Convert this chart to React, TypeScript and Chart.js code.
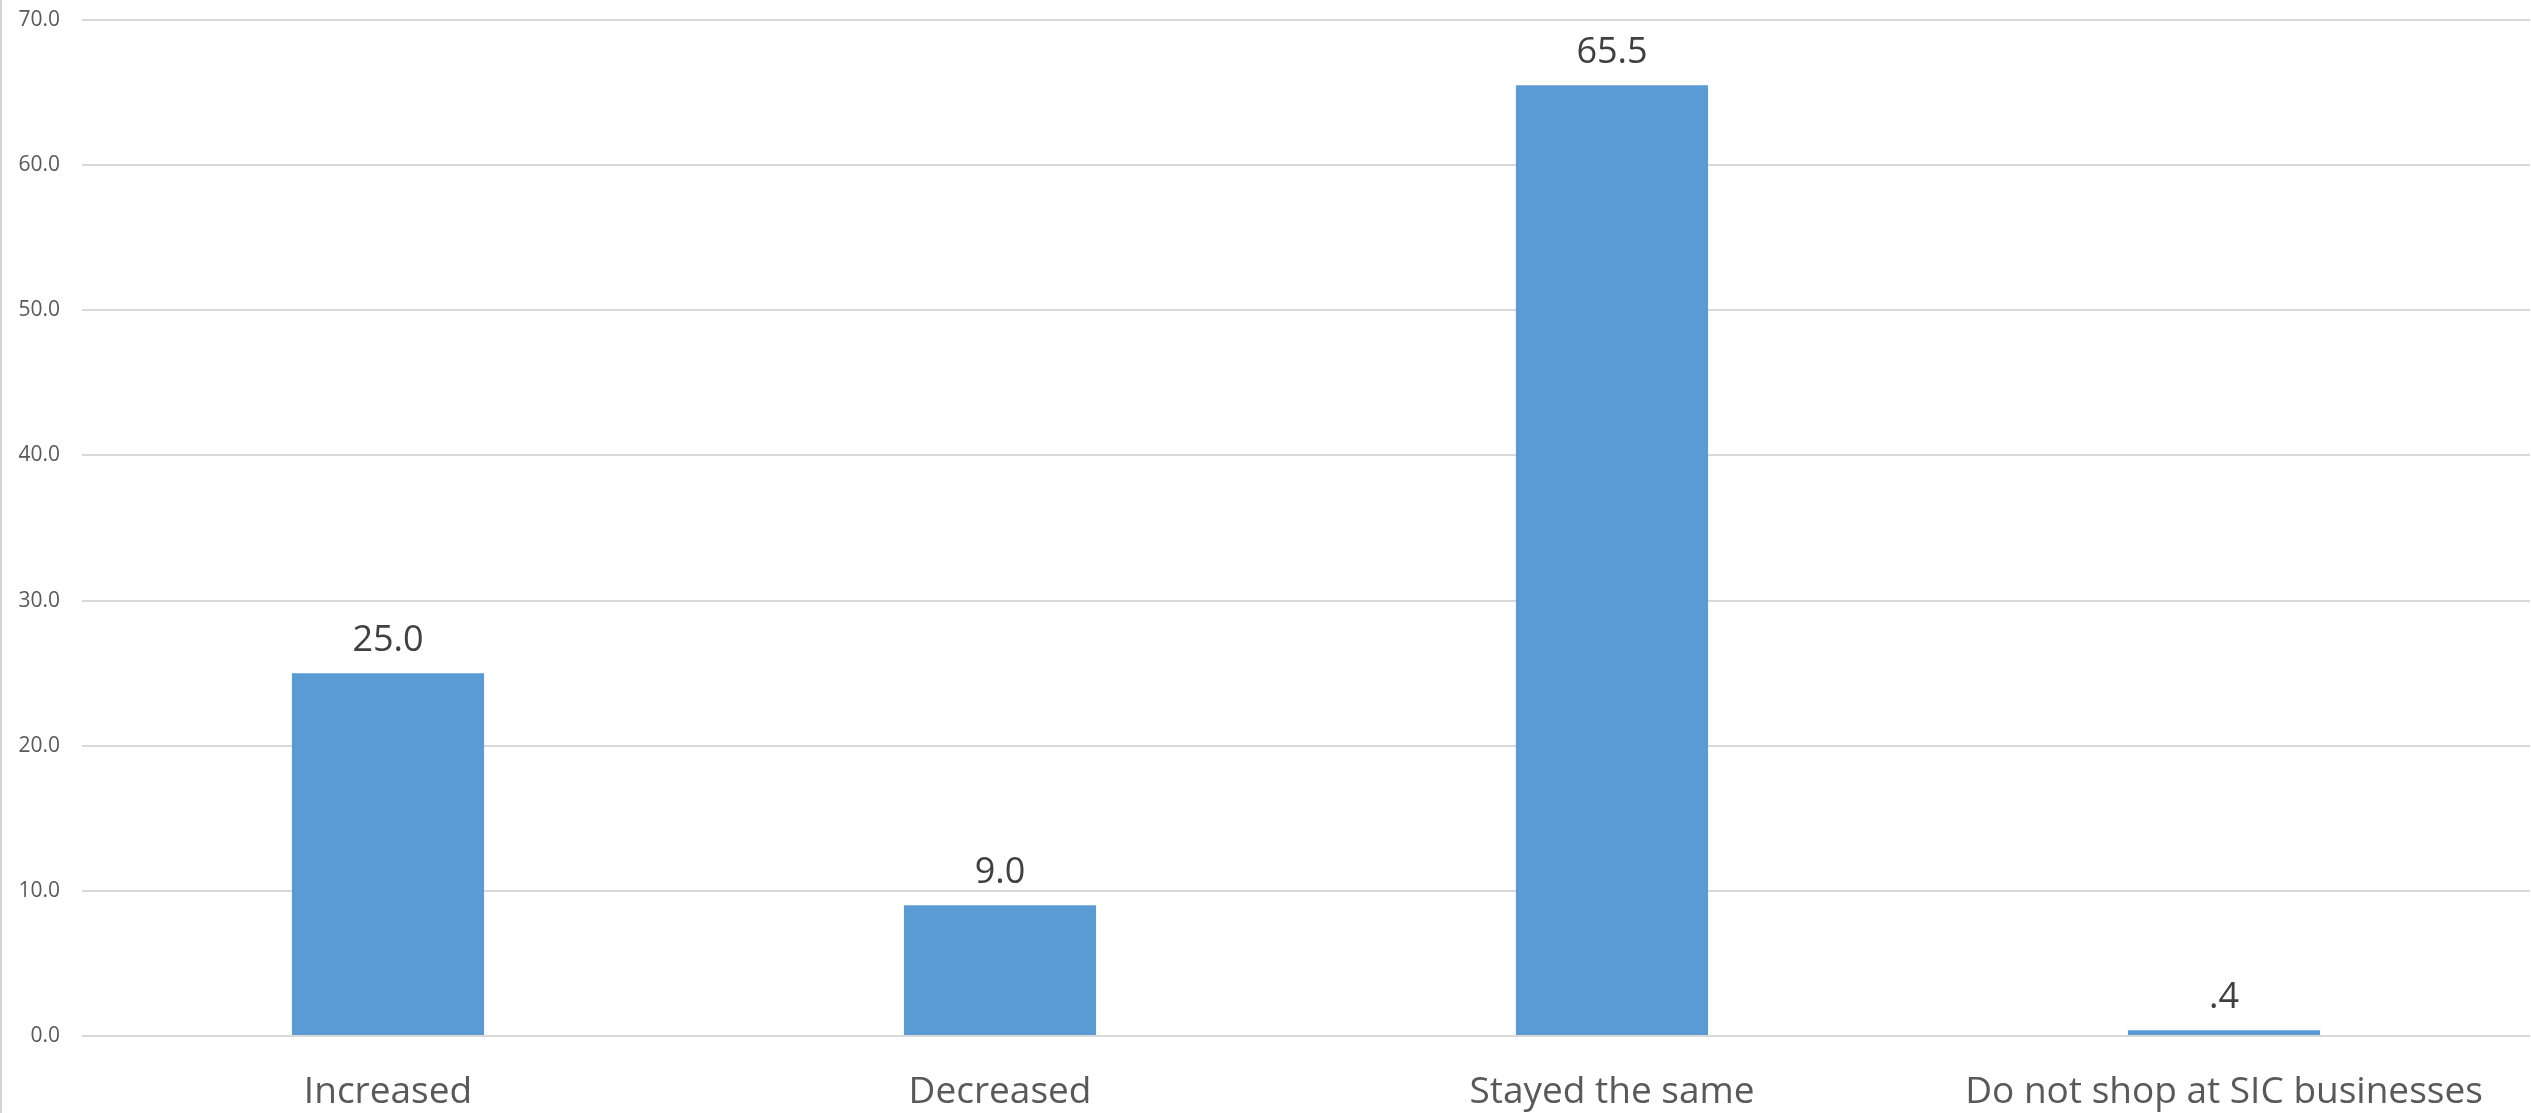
import React, { useEffect, useRef } from "react";
import { Chart, registerables } from "chart.js";

Chart.register(...registerables);

const categories = ["Increased", "Decreased", "Stayed the same", "Do not shop at SIC businesses"];
const values = [25.0, 9.0, 65.5, 0.4];
const valueLabels = ["25.0", "9.0", "65.5", ".4"];
const yTicks = [0, 10, 20, 30, 40, 50, 60, 70];

const FONT = "'Open Sans', sans-serif";

const valueLabelPlugin = {
  id: "valueLabels",
  afterDatasetsDraw(chart: any) {
    const ctx = chart.ctx;
    const meta = chart.getDatasetMeta(0);
    ctx.save();
    ctx.font = `36px ${FONT}`;
    ctx.fillStyle = "#404040";
    ctx.textAlign = "center";
    ctx.textBaseline = "alphabetic";
    meta.data.forEach((bar: any, i: number) => {
      ctx.fillText(valueLabels[i], bar.x, bar.y - 22);
    });
    ctx.restore();
  },
};

const borderPlugin = {
  id: "leftBorder",
  afterDraw(chart: any) {
    const ctx = chart.ctx;
    ctx.save();
    ctx.strokeStyle = "#d4d4d4";
    ctx.lineWidth = 2;
    ctx.beginPath();
    ctx.moveTo(1, 0);
    ctx.lineTo(1, chart.height);
    ctx.stroke();
    ctx.restore();
  },
};

export default function App() {
  const ref = useRef<HTMLCanvasElement | null>(null);
  useEffect(() => {
    if (!ref.current) return;
    const chart = new Chart(ref.current, {
      type: "bar",
      data: {
        labels: categories,
        datasets: [
          {
            data: values,
            backgroundColor: "#5B9BD5",
            borderWidth: 0,
            barPercentage: 0.314,
            categoryPercentage: 1,
          },
        ],
      },
      options: {
        animation: false,
        responsive: false,
        maintainAspectRatio: false,
        layout: { padding: { top: 20, right: 1, left: 0, bottom: 0 } },
        plugins: { legend: { display: false }, tooltip: { enabled: false } },
        scales: {
          x: {
            grid: { display: false },
            border: { display: false },
            ticks: {
              color: "#595959",
              font: { family: FONT, size: 37 },
              padding: 26,
              maxRotation: 0,
              autoSkip: false,
            },
            afterFit(scale: any) {
              scale.height = 77;
              scale.paddingLeft = 0;
              scale.paddingRight = 0;
            },
          },
          y: {
            min: 0,
            max: 70,
            afterBuildTicks(scale: any) {
              scale.ticks = yTicks.map((v) => ({ value: v }));
            },
            grid: { color: "#d9d9d9", lineWidth: 2, drawTicks: false },
            border: { display: false },
            ticks: {
              color: "#595959",
              font: { family: FONT, size: 21 },
              padding: 22,
              callback: (v: any) => Number(v).toFixed(1),
            },
            afterFit(scale: any) {
              scale.width = 82;
              scale.paddingTop = 0;
              scale.paddingBottom = 0;
            },
          },
        },
      },
      plugins: [valueLabelPlugin, borderPlugin],
    });
    return () => chart.destroy();
  }, []);
  return (
    <div style={{ position: "absolute", left: 0, top: 0, width: 2531, height: 1113, background: "#fff" }}>
      <canvas ref={ref} width={2531} height={1113} style={{ display: "block" }} />
    </div>
  );
}
